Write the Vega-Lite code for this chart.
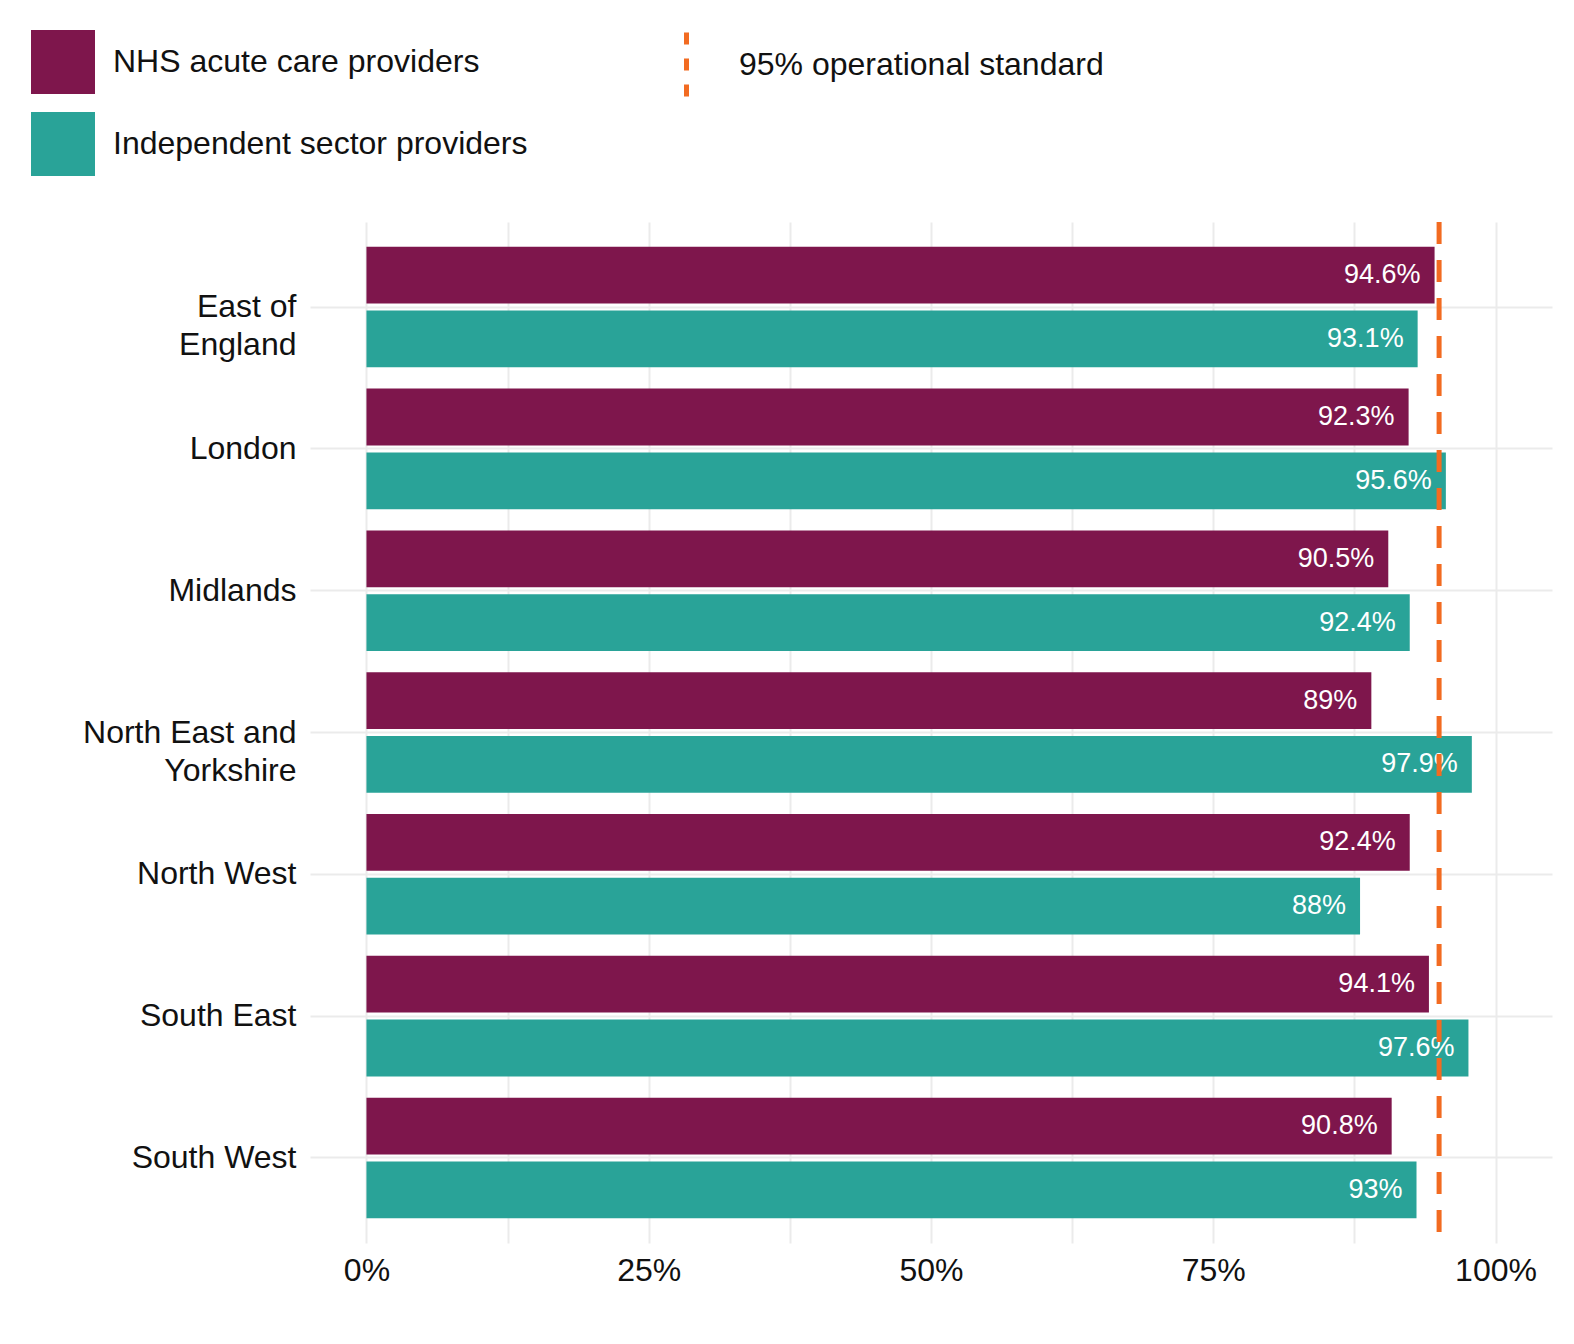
{
"$schema":"https://vega.github.io/schema/vega-lite/v6.json",
"width":1242,"height":1021,
"padding":{"left":31,"top":30,"right":18,"bottom":10},
"background":"white",
"config":{"view":{"stroke":null},"font":"Liberation Sans","axis":{"domain":false,"ticks":false,"labelFontSize":32,"labelColor":"#111","gridColor":"#ebebeb","gridWidth":2,"title":null,"labelLimit":500},
"legend":{"labelFontSize":32,"labelColor":"#111","title":null,"labelLimit":800}},
"data":{"values":[
{"r":"East of|England","g":"NHS acute care providers","v":0.946},
{"r":"East of|England","g":"Independent sector providers","v":0.931},
{"r":"London","g":"NHS acute care providers","v":0.923},
{"r":"London","g":"Independent sector providers","v":0.956},
{"r":"Midlands","g":"NHS acute care providers","v":0.905},
{"r":"Midlands","g":"Independent sector providers","v":0.924},
{"r":"North East and|Yorkshire","g":"NHS acute care providers","v":0.89},
{"r":"North East and|Yorkshire","g":"Independent sector providers","v":0.979},
{"r":"North West","g":"NHS acute care providers","v":0.924},
{"r":"North West","g":"Independent sector providers","v":0.88},
{"r":"South East","g":"NHS acute care providers","v":0.941},
{"r":"South East","g":"Independent sector providers","v":0.976},
{"r":"South West","g":"NHS acute care providers","v":0.908},
{"r":"South West","g":"Independent sector providers","v":0.93}
]},
"encoding":{
"y":{"field":"r","type":"nominal","sort":null,"scale":{"paddingInner":0.15,"paddingOuter":0.175},"axis":{"labelExpr":"split(datum.label,'|')","grid":true,"labelPadding":14,"labelLineHeight":38}},
"x":{"field":"v","type":"quantitative","scale":{"domain":[-0.05,1.05],"nice":false,"zero":false},"axis":{"values":[0,0.125,0.25,0.375,0.5,0.625,0.75,0.875,1],"labelExpr":"datum.value*8%2==0 ? format(datum.value,'.0%') : ''","labelPadding":12}}
},
"layer":[
{"mark":{"type":"bar"},"encoding":{
"yOffset":{"field":"g","type":"nominal","sort":["NHS acute care providers","Independent sector providers"],"scale":{"paddingInner":0.11}},
"x":{"datum":0},"x2":{"field":"v"},
"color":{"field":"g","type":"nominal","sort":["NHS acute care providers","Independent sector providers"],"scale":{"range":["#7e164c","#29a398"]},"legend":{"orient":"none","legendX":-279,"legendY":-192,"direction":"vertical","symbolType":"square","symbolSize":4096,"symbolStrokeWidth":0,"rowPadding":18,"labelOffset":18}}}},
{"mark":{"type":"text","align":"right","dx":-14,"color":"white","fontSize":27},"encoding":{
"yOffset":{"field":"g","type":"nominal","sort":["NHS acute care providers","Independent sector providers"],"scale":{"paddingInner":0.11}},
"text":{"field":"v","format":".3~%"}}},
{"data":{"values":[{"x":0.95,"l":"95% operational standard"}]},"mark":{"type":"rule","strokeWidth":5,"strokeDash":[22,16]},
"encoding":{"x":{"field":"x","type":"quantitative"},"y":null,"stroke":{"field":"l","type":"nominal","scale":{"range":["#f26b21"]},"legend":{"orient":"none","legendX":342,"legendY":-192,"symbolType":"M0,-1L0,1","symbolSize":4096,"symbolStrokeWidth":5,"symbolDash":[12,14],"labelOffset":18}}}}
],
"resolve":{"legend":{"color":"independent","stroke":"independent"}}
}
